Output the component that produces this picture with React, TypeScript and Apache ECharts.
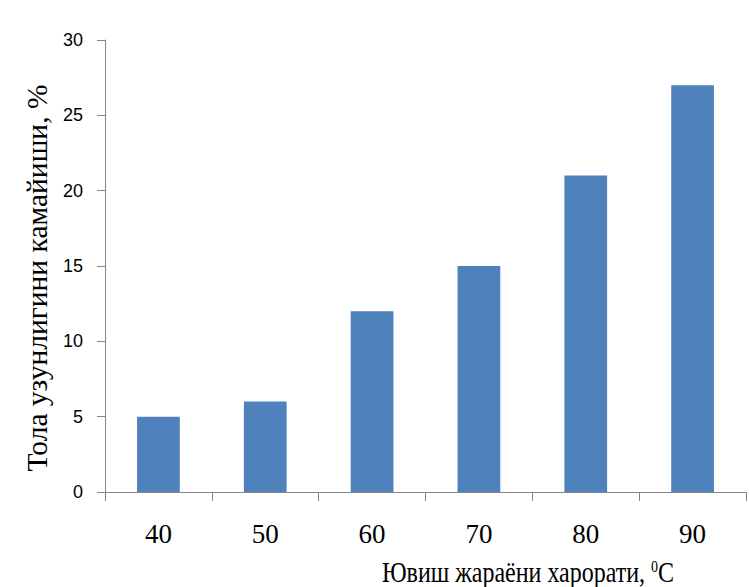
import React, { useEffect, useRef } from "react";
import * as echarts from "echarts";

const categories = ["40", "50", "60", "70", "80", "90"];
const values = [5, 6, 12, 15, 21, 27];
const yTitle = "Тола узунлигини камайиши, %";
const xTitleMain = "Ювиш жараёни харорати, ";
const xTitleSup = "0";
const xTitleUnit = "C";

export default function App() {
  const ref = useRef<HTMLDivElement>(null);
  useEffect(() => {
    if (!ref.current) return;
    const chart = echarts.init(ref.current, null, { renderer: "svg" });
    chart.setOption({
      animation: false,
      backgroundColor: "#ffffff",
      grid: { left: 105, right: 3, top: 40, bottom: 95 },
      xAxis: {
        type: "category",
        data: categories,
        axisLine: { lineStyle: { color: "#868686", width: 1 } },
        axisTick: { show: true, length: 9, lineStyle: { color: "#868686" } },
        axisLabel: {
          margin: 28,
          fontFamily: "Liberation Serif",
          fontSize: 27,
          color: "#000000",
        },
      },
      yAxis: {
        type: "value",
        min: 0,
        max: 30,
        interval: 5,
        splitLine: { show: false },
        axisLine: { show: true, lineStyle: { color: "#868686", width: 1 } },
        axisTick: { show: true, length: 8, lineStyle: { color: "#868686" } },
        axisLabel: {
          margin: 22,
          fontFamily: "Liberation Sans",
          fontSize: 18,
          color: "#000000",
        },
      },
      series: [
        {
          type: "bar",
          data: values,
          barWidth: "40%",
          itemStyle: { color: "#4F81BD" },
        },
      ],
      graphic: [
        {
          type: "text",
          x: 37,
          y: 278,
          rotation: Math.PI / 2,
          style: {
            text: yTitle,
            font: "29.5px 'Liberation Serif'",
            fill: "#000000",
            align: "center",
            verticalAlign: "middle",
          },
        },
        {
          type: "text",
          x: 528,
          y: 572,
          scaleY: 1.2,
          style: {
            text: "{m|" + xTitleMain + "}{s|" + xTitleSup + "}{m|" + xTitleUnit + "}",
            align: "center",
            verticalAlign: "middle",
            rich: {
              m: { fontFamily: "Liberation Serif", fontSize: 24, fill: "#000000", verticalAlign: "bottom" },
              s: { fontFamily: "Liberation Serif", fontSize: 14, fill: "#000000", verticalAlign: "top", padding: [0, 0, 10, 0] },
            },
          },
        },
      ],
    });
    return () => chart.dispose();
  }, []);
  return <div ref={ref} style={{ width: 749, height: 587, position: "absolute", left: 0, top: 0 }} />;
}
